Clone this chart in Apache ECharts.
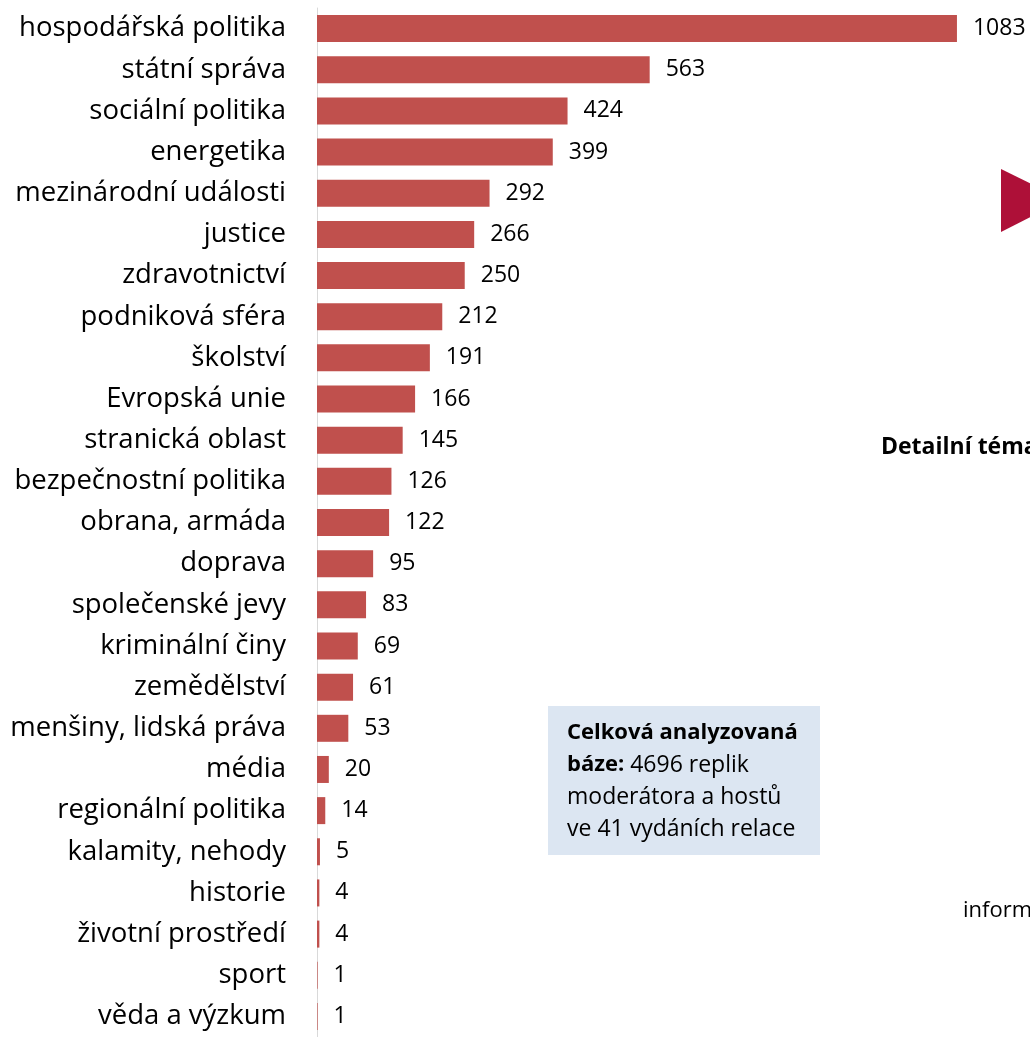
<!DOCTYPE html>
<html>
<head>
<meta charset="utf-8">
<script src="https://cdn.jsdelivr.net/npm/echarts@6/dist/echarts.min.js"></script>
<style>
  html, body { margin: 0; padding: 0; background: #fff; }
  #topics-chart { width: 1030px; height: 1037px; }
</style>
</head>
<body>
<div id="topics-chart"></div>
<script>
// témata, seřazeno od největšího
const categories = [
  'hospodářská politika', 'státní správa', 'sociální politika', 'energetika',
  'mezinárodní události', 'justice', 'zdravotnictví', 'podniková sféra',
  'školství', 'Evropská unie', 'stranická oblast', 'bezpečnostní politika',
  'obrana, armáda', 'doprava', 'společenské jevy', 'kriminální činy',
  'zemědělství', 'menšiny, lidská práva', 'média', 'regionální politika',
  'kalamity, nehody', 'historie', 'životní prostředí', 'sport', 'věda a výzkum'
]
const counts = [
  1083, 563, 424, 399, 292, 266, 250, 212, 191, 166, 145, 126,
  122, 95, 83, 69, 61, 53, 20, 14, 5, 4, 4, 1, 1
]
const noteLines = [
  '{b|Celková analyzovaná}',
  '{b|báze:} 4696 replik',
  'moderátora a hostů',
  've 41 vydáních relace'
]

const font = '"Open Sans", sans-serif'
const myChart = echarts.init(document.getElementById('topics-chart'))

const option = {
  animation: false,
  grid: {
    left: 317,
    right: 63,
    top: 8,
    height: 1036,
    containLabel: false
  },
  xAxis: {
    type: 'value',
    min: 0,
    max: 1100,
    show: false
  },
  yAxis: {
    type: 'category',
    inverse: true,
    data: categories,
    axisLine: { show: true, lineStyle: { color: '#d9d9d9', width: 1 } },
    axisTick: { show: false },
    axisLabel: {
      margin: 31,
      color: '#000',
      fontFamily: font,
      fontSize: 27.5,
      padding: [4, 0, 0, 0]
    }
  },
  series: [
    {
      type: 'bar',
      data: counts,
      barWidth: 27,
      itemStyle: { color: '#C0504D' },
      label: {
        show: true,
        position: 'right',
        distance: 16,
        color: '#000',
        fontFamily: font,
        fontSize: 23
      }
    }
  ],
  graphic: [
    {
      type: 'rect',
      shape: { x: 548, y: 706, width: 272, height: 149 },
      style: { fill: '#DCE6F2' }
    },
    {
      type: 'text',
      left: 567,
      top: 717,
      style: {
        text: noteLines.join('\n'),
        fill: '#000',
        font: '23px ' + font,
        lineHeight: 32,
        rich: {
          b: { fontWeight: 'bold', fontSize: 22, fontFamily: font, lineHeight: 32 }
        }
      }
    },
    {
      type: 'polygon',
      shape: { points: [[1001, 169], [1064, 200], [1001, 232]] },
      style: { fill: '#AE1038' }
    },
    {
      type: 'text',
      left: 881,
      top: 436,
      style: { text: 'Detailní témata', fill: '#000', font: 'bold 23px ' + font }
    },
    {
      type: 'text',
      left: 963,
      top: 900,
      style: { text: 'informace', fill: '#000', font: '22px ' + font }
    }
  ]
}

myChart.setOption(option)
window.addEventListener('resize', function() {
  myChart.resize()
})
</script>
</body>
</html>
